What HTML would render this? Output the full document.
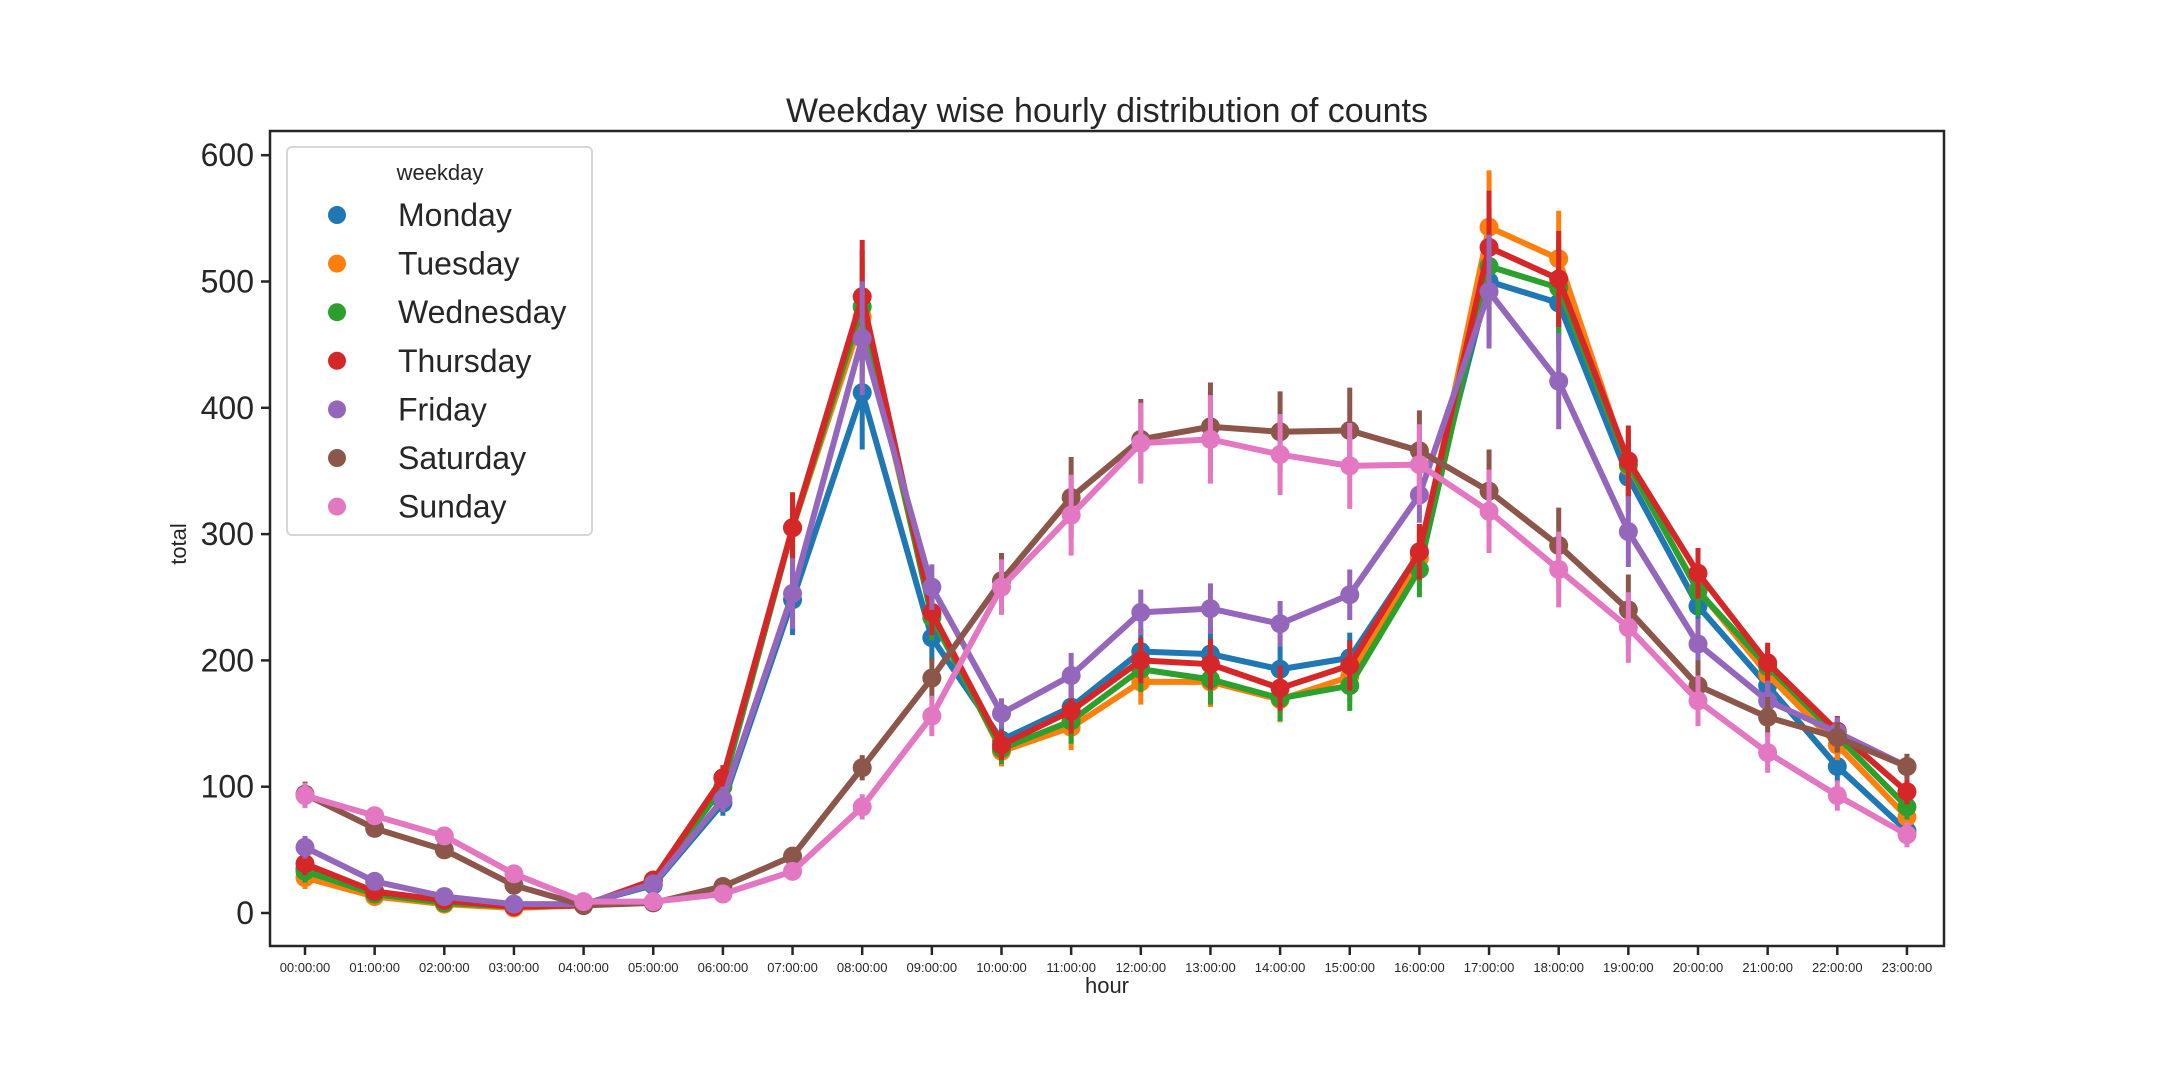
<!DOCTYPE html>
<html><head><meta charset="utf-8"><style>
html,body{margin:0;padding:0;background:#fff;}
svg{display:block;font-family:"Liberation Sans",sans-serif;}
</style></head><body>
<svg id="chart" width="2160" height="1080" viewBox="0 0 2160 1080" xmlns="http://www.w3.org/2000/svg">
<rect width="2160" height="1080" fill="#fff"/>
<text x="1107" y="122" font-size="34" text-anchor="middle" fill="#262626">Weekday wise hourly distribution of counts</text>
<g id="plot"></g>
<rect x="270" y="131" width="1674" height="815" fill="none" stroke="#262626" stroke-width="2.5"/>
<g id="axes"></g>
<text x="1107" y="993" font-size="22" text-anchor="middle" fill="#262626">hour</text>
<text transform="translate(186,544) rotate(-90)" font-size="22" text-anchor="middle" fill="#262626">total</text>
<g id="legend">
<rect x="287" y="147" width="305" height="388" rx="5" fill="#fff" fill-opacity="0.85" stroke="#d6d6d6" stroke-width="2"/>
<text x="440" y="180" font-size="22" text-anchor="middle" fill="#262626">weekday</text>
</g>
</svg>
<script>
const hours = ["00:00:00","01:00:00","02:00:00","03:00:00","04:00:00","05:00:00","06:00:00","07:00:00","08:00:00","09:00:00","10:00:00","11:00:00","12:00:00","13:00:00","14:00:00","15:00:00","16:00:00","17:00:00","18:00:00","19:00:00","20:00:00","21:00:00","22:00:00","23:00:00"];
const yTicks = [0,100,200,300,400,500,600];
const seriesNames = ["Monday","Tuesday","Wednesday","Thursday","Friday","Saturday","Sunday"];
const seriesColors = ["#1f77b4","#ff7f0e","#2ca02c","#d62728","#9467bd","#8c564b","#e377c2"];
const monday    = [35,16,9,6,7,22,87,248,412,218,137,163,207,205,193,202,285,500,483,345,243,180,116,65];
const tuesday   = [28,13,7,4,6,26,107,305,472,237,128,147,183,183,169,187,281,543,518,354,256,189,133,76];
const wednesday = [33,15,8,5,6,25,100,305,480,234,130,152,193,185,170,180,272,512,495,355,255,195,140,84];
const thursday  = [39,17,10,5,6,26,107,305,488,238,133,160,200,197,178,196,286,527,502,358,269,198,144,96];
const friday    = [52,25,13,7,7,23,90,253,455,258,158,188,238,241,229,252,331,492,421,302,213,168,143,116];
const saturday  = [94,67,50,22,6,8,21,45,115,186,263,329,375,385,381,382,366,334,291,240,180,155,139,116];
const sunday    = [93,77,61,31,9,9,15,33,84,156,258,315,372,375,363,354,355,318,272,226,168,127,93,62];
const ciWeekday = [9,6,5,4,2,4,10,28,45,18,12,18,18,20,18,20,22,45,38,28,20,16,12,10];
const ciWeekend = [10,6,5,4,2,2,4,6,10,16,22,32,32,35,32,34,32,33,30,28,20,16,12,10];
const seriesData = [monday,tuesday,wednesday,thursday,friday,saturday,sunday];

const NS="http://www.w3.org/2000/svg";
const X0=305, XSTEP=69.65, Y0=913, YPER=1.263;
function xScale(i){return X0+i*XSTEP;}
function yScale(v){return Y0-v*YPER;}
function mk(tag,attrs,parent){const e=document.createElementNS(NS,tag);for(const k in attrs)e.setAttribute(k,attrs[k]);parent.appendChild(e);return e;}

const plot=document.getElementById('plot');
seriesData.forEach((d,s)=>{
  const ci = s>=5 ? ciWeekend : ciWeekday;
  const g=mk('g',{},plot);
  
  
  d.forEach((v,i)=>{
    const eb=mk('line',{x1:xScale(i),x2:xScale(i),y1:yScale(v-ci[i]),y2:yScale(v+ci[i]),stroke:seriesColors[s],'stroke-width':5},g);
    
    
  });
  const pts=d.map((v,i)=>xScale(i)+','+yScale(v)).join(' ');
  const pl=mk('polyline',{points:pts,fill:'none',stroke:seriesColors[s],'stroke-width':6,'stroke-linejoin':'round'},g);
  
  
  d.forEach((v,i)=>{
    const c=mk('circle',{cx:xScale(i),cy:yScale(v),r:9.5,fill:seriesColors[s]},g);
    
    
  });
});

const axes=document.getElementById('axes');
yTicks.forEach(t=>{
  const y=yScale(t);
  const l=mk('line',{x1:261,x2:270,y1:y,y2:y,stroke:'#262626','stroke-width':2.5},axes);
  
  
  const tx=mk('text',{x:254,y:y+11,'font-size':32,'text-anchor':'end',fill:'#262626'},axes);
  tx.textContent=t;
  
  
});
hours.forEach((h,i)=>{
  const x=xScale(i);
  const l=mk('line',{x1:x,x2:x,y1:946,y2:955,stroke:'#262626','stroke-width':2.5},axes);
  
  
  const tx=mk('text',{x:x,y:972,'font-size':13,'text-anchor':'middle',fill:'#262626'},axes);
  tx.textContent=h;
  
  
});

const legend=document.getElementById('legend');
seriesNames.forEach((n,s)=>{
  const y=215+s*48.6;
  const c=mk('circle',{cx:337,cy:y,r:9,fill:seriesColors[s]},legend);
  
  
  const t=mk('text',{x:398,y:y+11,'font-size':32,fill:'#262626'},legend);
  t.textContent=n;
  
  
});
</script>
</body></html>
